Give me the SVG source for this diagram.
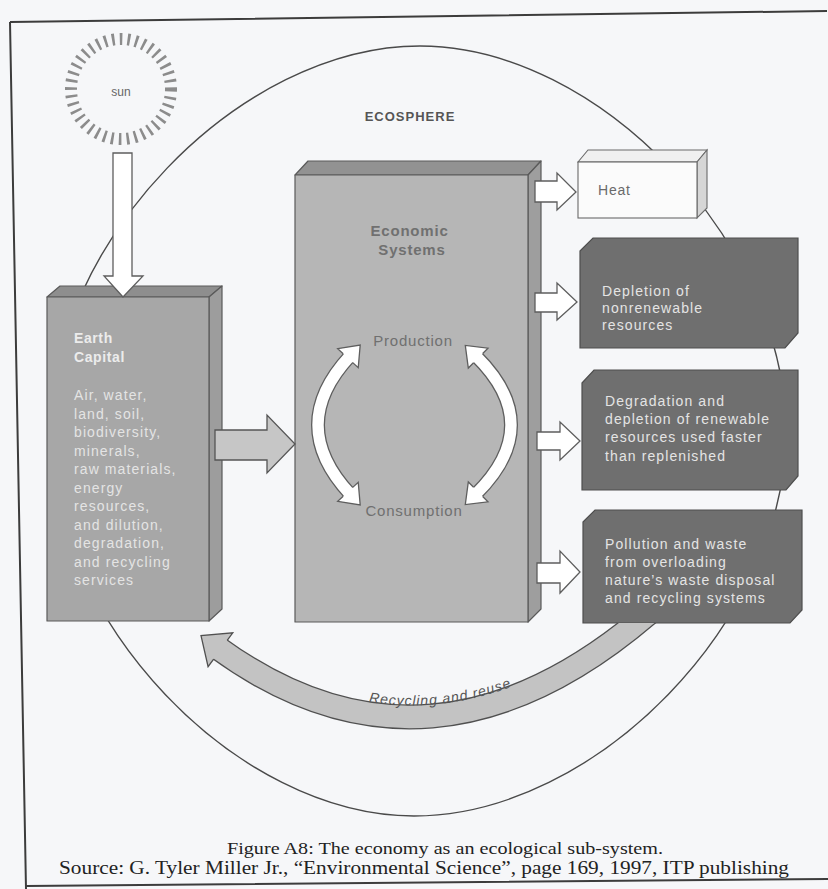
<svg xmlns="http://www.w3.org/2000/svg" width="828" height="889" viewBox="0 0 828 889">
  <style>
    .sans { font-family: "Liberation Sans", Arial, sans-serif; }
    .serif { font-family: "Liberation Serif", "Times New Roman", serif; }
    .light { fill: #e4e4e4; font-size: 14px; letter-spacing: 1.1px; }
    .econ { fill: #707070; font-size: 15px; letter-spacing: 0.8px; }
    .hollow { fill: #ffffff; stroke: #5e5e5e; stroke-width: 1.3; stroke-linejoin: miter; }
    .dark { fill: #6f6f6f; stroke: #4e4e4e; stroke-width: 1.2; }
    .edge { stroke: #5a5a5a; stroke-width: 1.2; stroke-linejoin: round; }
  </style>
  <defs>
    <marker id="loopHead" markerUnits="userSpaceOnUse" viewBox="-20 -20 40 40" markerWidth="40" markerHeight="40" refX="0" refY="0" orient="auto-start-reverse" overflow="visible">
      <path d="M-3,-6.5 L-3,-14 L15,0 L-3,14 L-3,6.5" fill="#ffffff" stroke="#5e5e5e" stroke-width="1.3"/>
    </marker>
    <marker id="recycleHead" markerUnits="userSpaceOnUse" viewBox="-30 -30 60 60" markerWidth="60" markerHeight="60" refX="0" refY="0" orient="auto" overflow="visible">
      <path d="M-3,-11.5 L-3,-21 L21,0 L-3,21 L-3,11.5" fill="#c3c3c3" stroke="#505050" stroke-width="1.3"/>
    </marker>
    <clipPath id="belowPollution">
      <rect x="0" y="623" width="828" height="266"/>
    </clipPath>
  </defs>

  <!-- page -->
  <rect x="0" y="0" width="828" height="889" fill="#f6f7f9"/>
  <path d="M10,22 L827,11 M10,22 L26,889 M26,886 L828,879" fill="none" stroke="#3c3c3c" stroke-width="2"/>

  <!-- ecosphere boundary -->
  <g id="ecosphere">
    <path d="M420,46 C599,46 786,243 786,432 C786,620 596,816 414,816 C236,816 50,620 50,432 C50,243 239,46 420,46 Z" fill="none" stroke="#4a4a4a" stroke-width="1.4"/>
    <text class="sans" x="410" y="121" text-anchor="middle" font-size="13" font-weight="bold" letter-spacing="1" fill="#555555">ECOSPHERE</text>
  </g>

  <!-- sun -->
  <g id="sun">
    <circle cx="121" cy="89" r="50" fill="none" stroke="#8c8c8c" stroke-width="12" stroke-dasharray="2.6 5.2"/>
    <text class="sans" x="121" y="96" text-anchor="middle" font-size="12" fill="#666666">sun</text>
  </g>

  <!-- Earth capital block -->
  <g id="earth-capital">
    <polygon points="47,297 60,286 222,286 209,297" fill="#8e8e8e" class="edge"/>
    <polygon points="209,297 222,286 222,609 209,621" fill="#9d9d9d" class="edge"/>
    <rect x="47" y="297" width="162" height="324" fill="#a7a7a7" class="edge"/>
    <text class="sans" font-size="14" font-weight="bold" fill="#ececec" letter-spacing="0.6">
      <tspan x="74" y="343">Earth</tspan>
      <tspan x="74" y="362">Capital</tspan>
    </text>
    <text class="sans light">
      <tspan x="74" y="400">Air, water,</tspan>
      <tspan x="74" y="418.5">land, soil,</tspan>
      <tspan x="74" y="437">biodiversity,</tspan>
      <tspan x="74" y="455.5">minerals,</tspan>
      <tspan x="74" y="474">raw materials,</tspan>
      <tspan x="74" y="492.5">energy</tspan>
      <tspan x="74" y="511">resources,</tspan>
      <tspan x="74" y="529.5">and dilution,</tspan>
      <tspan x="74" y="548">degradation,</tspan>
      <tspan x="74" y="566.5">and recycling</tspan>
      <tspan x="74" y="585">services</tspan>
    </text>
  </g>

  <!-- economic systems block -->
  <g id="economic-systems">
    <polygon points="295,175 308,161 541,161 528,175" fill="#929292" class="edge"/>
    <polygon points="528,175 541,161 541,609 528,622" fill="#9e9e9e" class="edge"/>
    <rect x="295" y="175" width="233" height="447" fill="#b6b6b6" class="edge"/>
    <text class="sans econ" font-weight="bold" text-anchor="middle">
      <tspan x="412" y="236">Economic</tspan>
      <tspan x="412" y="255">Systems</tspan>
    </text>
    <text class="sans econ" x="413" y="346" text-anchor="middle">Production</text>
    <text class="sans econ" x="414" y="516" text-anchor="middle">Consumption</text>
    <!-- production / consumption loop -->
    <path d="M350,356 Q286,425 350,494" fill="none" stroke="#5e5e5e" stroke-width="14"/>
    <path d="M350,356 Q286,425 350,494" fill="none" stroke="#ffffff" stroke-width="11.4" marker-start="url(#loopHead)" marker-end="url(#loopHead)"/>
    <path d="M476,356 Q546,425 476,494" fill="none" stroke="#5e5e5e" stroke-width="14"/>
    <path d="M476,356 Q546,425 476,494" fill="none" stroke="#ffffff" stroke-width="11.4" marker-start="url(#loopHead)" marker-end="url(#loopHead)"/>
  </g>

  <!-- outputs -->
  <g id="heat">
    <polygon points="578,162 588,150 707,150 697,162" fill="#f0f0f0" stroke="#6a6a6a" stroke-width="1.1"/>
    <polygon points="697,162 707,150 707,208 697,218" fill="#d6d6d6" stroke="#6a6a6a" stroke-width="1.1"/>
    <rect x="578" y="162" width="119" height="56" fill="#fbfbfb" stroke="#6a6a6a" stroke-width="1.1"/>
    <text class="sans" x="598" y="195" font-size="14" letter-spacing="0.8" fill="#6a6a6a">Heat</text>
  </g>

  <g id="depletion">
    <polygon class="dark" points="580,251 593,238 798,238 798,333 785,348 580,348"/>
    <text class="sans light">
      <tspan x="602" y="296">Depletion of</tspan>
      <tspan x="602" y="313">nonrenewable</tspan>
      <tspan x="602" y="330">resources</tspan>
    </text>
  </g>

  <g id="degradation">
    <polygon class="dark" points="582,383 594,370 798,370 798,476 786,490 582,490"/>
    <text class="sans light">
      <tspan x="605" y="406">Degradation and</tspan>
      <tspan x="605" y="424">depletion of renewable</tspan>
      <tspan x="605" y="442">resources used faster</tspan>
      <tspan x="605" y="461">than replenished</tspan>
    </text>
  </g>

  <g id="pollution">
    <polygon class="dark" points="583,522 595,510 802,510 802,610 790,623 583,623"/>
    <text class="sans light">
      <tspan x="605" y="549">Pollution and waste</tspan>
      <tspan x="605" y="567">from overloading</tspan>
      <tspan x="605" y="585">nature’s waste disposal</tspan>
      <tspan x="605" y="603">and recycling systems</tspan>
    </text>
  </g>

  <!-- flows -->
  <g id="connectors">
    <polygon class="hollow" points="113,153 132,153 132,276 143,276 123,297 104,276 113,276"/>
    <polygon points="215,430 267,430 267,415 295,444 267,473 267,460 215,460" fill="#c6c6c6" stroke="#555555" stroke-width="1.3"/>
    <polygon class="hollow" points="535,181 557,181 557,173 576,192 557,210 557,202 535,202"/>
    <polygon class="hollow" points="535,293 557,293 557,283 577,302 557,320 557,312 535,312"/>
    <polygon class="hollow" points="537,432 560,432 560,422 580,441 560,460 560,450 537,450"/>
    <polygon class="hollow" points="537,563 560,563 560,551 580,572 560,593 560,583 537,583"/>
    <g id="recycling" clip-path="url(#belowPollution)">
      <path d="M650,612 Q430,802 218,648" fill="none" stroke="#505050" stroke-width="25"/>
      <path d="M650,612 Q430,802 218,648" fill="none" stroke="#c3c3c3" stroke-width="22.4" marker-end="url(#recycleHead)"/>
    </g>
    <path id="recycleText" d="M226,640 Q430,786 646,606" fill="none"/>
    <text class="sans" font-size="14" font-style="italic" fill="#555555" letter-spacing="1"><textPath href="#recycleText" startOffset="50%" text-anchor="middle">Recycling and reuse</textPath></text>
  </g>

  <!-- caption -->
  <g id="caption" class="serif" fill="#222222" text-anchor="middle">
    <text x="445" y="854" font-size="17" textLength="436" lengthAdjust="spacingAndGlyphs">Figure A8: The economy as an ecological sub-system.</text>
    <text x="424" y="874" font-size="18" textLength="730" lengthAdjust="spacingAndGlyphs">Source: G. Tyler Miller Jr., “Environmental Science”, page 169, 1997, ITP publishing</text>
  </g>
</svg>
